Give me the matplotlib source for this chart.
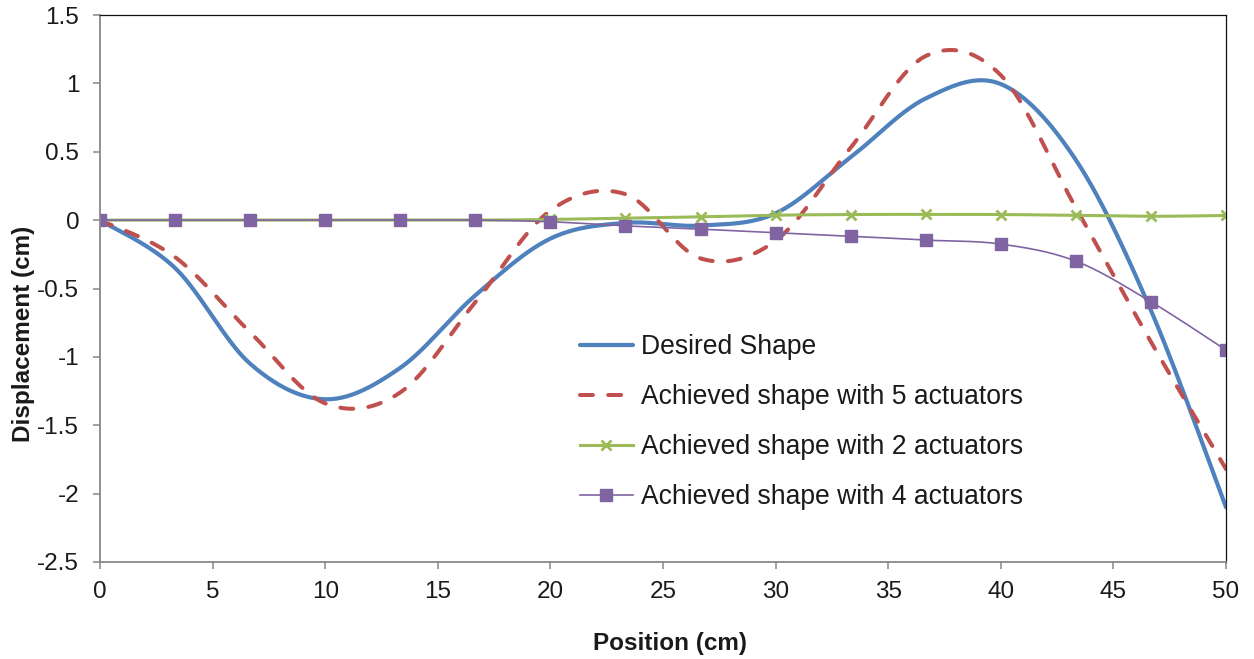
import numpy as np
import matplotlib
matplotlib.use("Agg")
import matplotlib.pyplot as plt

plt.rcParams['font.family'] = ['Liberation Sans', 'DejaVu Sans']

# ---- data ----
position = [0, 10/3, 20/3, 10, 40/3, 50/3, 20, 70/3, 80/3, 30, 100/3, 110/3, 40, 130/3, 140/3, 50]
desired = [0, -0.35, -1.05, -1.31, -1.08, -0.55, -0.135, -0.02, -0.04, 0.05, 0.46, 0.89, 0.995, 0.44, -0.66, -2.10]
act5 = [0, -0.27, -0.82, -1.34, -1.26, -0.60, 0.07, 0.19, -0.28, -0.15, 0.53, 1.20, 1.06, 0.09, -0.89, -1.82]
act2 = [0, 0, 0, 0, 0, 0, 0.005, 0.015, 0.024, 0.036, 0.041, 0.042, 0.041, 0.035, 0.028, 0.034]
act4 = [0, 0, 0, 0, 0, 0, -0.012, -0.042, -0.066, -0.092, -0.117, -0.146, -0.175, -0.30, -0.597, -0.95]

labels = ["Desired Shape", "Achieved shape with 5 actuators",
          "Achieved shape with 2 actuators", "Achieved shape with 4 actuators"]
xticks = [0, 5, 10, 15, 20, 25, 30, 35, 40, 45, 50]
yticks = [-2.5, -2, -1.5, -1, -0.5, 0, 0.5, 1, 1.5]


def smooth(x, y, n=40):
    """Excel-style smoothed line (Catmull-Rom Bezier)."""
    P = np.column_stack([x, y]).astype(float)
    ext = np.vstack([P[0], P, P[-1]])
    out = []
    t = np.linspace(0, 1, n)[:, None]
    for i in range(len(P) - 1):
        p0, p1, p2, p3 = ext[i], ext[i + 1], ext[i + 2], ext[i + 3]
        b1 = p1 + (p2 - p0) / 6
        b2 = p2 - (p3 - p1) / 6
        seg = ((1 - t) ** 3) * p1 + 3 * ((1 - t) ** 2) * t * b1 + 3 * (1 - t) * t ** 2 * b2 + t ** 3 * p2
        out.append(seg if i == 0 else seg[1:])
    s = np.vstack(out)
    return s[:, 0], s[:, 1]


fig = plt.figure(figsize=(12.54, 6.59), dpi=100)
ax = fig.add_axes([100 / 1254, 1 - 562 / 659, 1126 / 1254, 547 / 659])

blue = '#4F81BD'
red = '#C0504D'
green = '#9BBB59'
purple = '#8064A2'

sx, sy = smooth(position, desired)
l1, = ax.plot(sx, sy, color=blue, lw=3.0, solid_capstyle='round', label=labels[0])

sx, sy = smooth(position, act5)
l2, = ax.plot(sx, sy, color=red, lw=2.9, dashes=(3.2, 3.8), dash_capstyle='round', label=labels[1])

sx, sy = smooth(position, act2)
ax.plot(sx, sy, color=green, lw=2.2)
ax.plot(position, act2, ls='none', marker='x', ms=7, mew=2.0, color=green)
l3, = ax.plot([], [], color=green, lw=2.2, marker='x', ms=7, mew=2.0, label=labels[2])

sx, sy = smooth(position, act4)
ax.plot(sx, sy, color=purple, lw=1.2)
ax.plot(position, act4, ls='none', marker='s', ms=8.5, color=purple, mec=purple)
l4, = ax.plot([], [], color=purple, lw=1.2, marker='s', ms=8.5, label=labels[3])

ax.set_xlim(0, 50)
ax.set_ylim(-2.5, 1.5)
ax.set_xticks(xticks)
ax.set_yticks(yticks)
ax.set_xticklabels([f"{v:g}" for v in xticks])
ax.set_yticklabels([f"{v:g}" for v in yticks])

for s in ['left', 'bottom']:
    ax.spines[s].set_color('#888888')
    ax.spines[s].set_linewidth(1.3)
for s in ['top', 'right']:
    ax.spines[s].set_color('#111111')
    ax.spines[s].set_linewidth(0.9)

ax.tick_params(axis='both', direction='out', length=5, width=1.1, color='#888888',
               labelsize=17.5, labelcolor='#1a1a1a')
ax.tick_params(axis='x', pad=9)
ax.tick_params(axis='y', pad=10)

ax.set_xlabel("Position (cm)", fontsize=17.5, fontweight='bold', color='#1a1a1a')
ax.set_ylabel("Displacement (cm)", fontsize=17.5, fontweight='bold', color='#1a1a1a')
# label positions (axes fraction)
ax.xaxis.set_label_coords(570 / 1126, -(655 - 562) / 547)
ax.xaxis.label.set_va('bottom')
ax.yaxis.set_label_coords(-(100 - 35) / 1126, (562 - 334) / 547)

leg = ax.legend(handles=[l1, l2, l3, l4], loc='upper left', bbox_to_anchor=(0.426, 0.417),
                frameon=False, fontsize=19.1, handlelength=2.0, handletextpad=0.3,
                labelspacing=0.905, borderpad=0, borderaxespad=0)
for t in leg.get_texts():
    t.set_color('#1a1a1a')

fig.savefig("out.png", dpi=100)
